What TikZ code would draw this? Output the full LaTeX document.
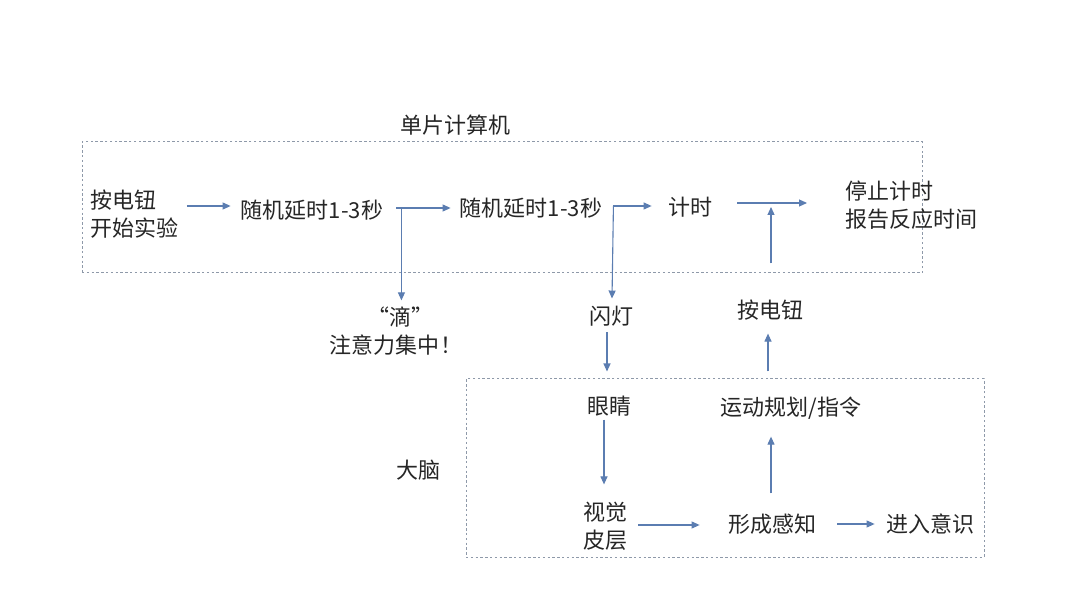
\documentclass[tikz,border=0pt]{standalone}
\usepackage{fontspec}
\newfontfamily\cjk{Noto Sans CJK SC}
\usetikzlibrary{arrows.meta,calc}
\definecolor{arrowc}{HTML}{5B7DB1}
\definecolor{boxc}{HTML}{8E99A9}
\definecolor{txtc}{HTML}{262626}
\begin{document}
\begin{tikzpicture}[x=0.5pt,y=-0.5pt,
 lbl/.style={font=\cjk\fontsize{11pt}{14pt}\selectfont, text=txtc, inner sep=0pt},
 arr/.style={draw=arrowc, line width=0.55pt, -{Triangle[length=4pt,width=3.5pt]}},
 dbox/.style={draw=boxc, line width=0.5pt, dash pattern=on 1.2pt off 1.2pt, inner sep=0pt}]
\useasboundingbox[fill=white] (0,0) rectangle (1080,608);
% boxes
\node[dbox, minimum width=420pt, minimum height=65.5pt] (box1) at (502,207.5) {};
\node[dbox, minimum width=259pt, minimum height=89pt] (box2) at (725,468) {};
% labels
\node[lbl] (title) at (455,125) {单片计算机};
\node[lbl, anchor=west, align=left] (start) at (90,214) {按电钮\\开始实验};
\node[lbl] (b1) at (312,210) {随机延时1-3秒};
\node[lbl] (b2) at (531,208) {随机延时1-3秒};
\node[lbl] (timer) at (690,207) {计时};
\node[lbl, anchor=west, align=left] (stop) at (845,205) {停止计时\\报告反应时间};
\node[lbl, align=center] (di) at (396,331) {\hspace{4pt}“滴”\\注意力集中\hspace{1pt}！};
\node[lbl] (flash) at (611,316) {闪灯};
\node[lbl] (press) at (770,310) {按电钮};
\node[lbl] (brain) at (418,470) {大脑};
\node[lbl] (eye) at (609,406) {眼睛};
\node[lbl, align=center] (cortex) at (605,526) {视觉\\皮层};
\node[lbl] (perceive) at (772,524) {形成感知};
\node[lbl] (conscious) at (930,524) {进入意识};
\node[lbl] (motor) at (791,408) {运动规划/指令};
% arrows
\draw[arr] ($(start.east)+(8,-8)$) -- ($(b1.west)+(-10,-4)$);
\draw[arr] ($(b1.east)+(13,-2)$) -- ($(b2.west)+(-9,0)$);
\draw[arr] ($(b1.east)+(18,-2)$) -- ($(di.north -| b1.east)+(18,-6)$);
\draw[arr] ($(b2.east)+(11,-2)$) -- ($(timer.west)+(-16,-1)$);
\draw[arr] ($(b2.east)+(11,-2)$) -- ($(flash.north)+(1,-7)$);
\draw[arr] ($(flash.south)+(-4,6)$) -- ($(flash.south |- box2.north)+(-4,-7)$);
\draw[arr] ($(timer.east)+(25,-4)$) -- ($(stop.west)+(-38,-2)$);
\draw[arr] ($(press.north |- box1.south)+(1,-10)$) -- ($(press.north |- timer)+(1,0)$);
\draw[arr] ($(press.south |- box2.north)+(-2,-7)$) -- ($(press.south)+(-2,13)$);
\draw[arr] ($(eye.south)+(-5,3)$) -- ($(cortex.north)+(-1,-17)$);
\draw[arr] ($(cortex.east)+(11,-1)$) -- ($(perceive.west)+(-28,1)$);
\draw[arr] ($(perceive.east)+(21,0)$) -- ($(conscious.west)+(-11,0)$);
\draw[arr] ($(perceive.north)+(-1,-20)$) -- ($(motor.south)+(-20,17)$);
\end{tikzpicture}
\end{document}
